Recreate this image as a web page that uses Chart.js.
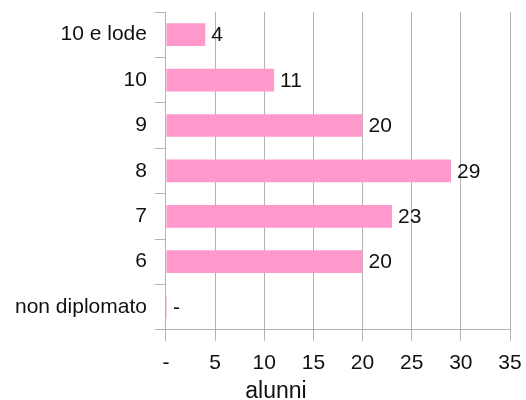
<!DOCTYPE html>
<html>
<head>
<meta charset="utf-8">
<script src="https://cdn.jsdelivr.net/npm/chart.js@4/dist/chart.umd.min.js"></script>
<style>
  html, body { margin: 0; padding: 0; background: #fff; }
  #wrap { width: 526px; height: 400px; }
</style>
</head>
<body>
<div id="wrap"><canvas id="votiChart"></canvas></div>
<script>
const categories = ["10 e lode", "10", "9", "8", "7", "6", "non diplomato"];
const alunni = [4, 11, 20, 29, 23, 20, 0];
const xTicks = [0, 5, 10, 15, 20, 25, 30, 35];
const axisTitle = "alunni";

const FONT = "'Liberation Sans', Arial, sans-serif";
const GRID = "#b3b3b3";

const valueLabels = {
  id: "valueLabels",
  afterDatasetsDraw(chart) {
    const ctx = chart.ctx;
    const meta = chart.getDatasetMeta(0);
    ctx.save();
    ctx.font = "21px " + FONT;
    ctx.fillStyle = "#111";
    ctx.textBaseline = "middle";
    ctx.textAlign = "left";
    meta.data.forEach((bar, i) => {
      const v = alunni[i];
      ctx.fillText(v === 0 ? "-" : String(v), bar.x + 6, bar.y + 1);
    });
    ctx.restore();
  },
};

const axisLabel = {
  id: "axisLabel",
  afterDraw(chart) {
    const ctx = chart.ctx;
    ctx.save();
    ctx.font = "23px " + FONT;
    ctx.fillStyle = "#111";
    ctx.textAlign = "center";
    ctx.textBaseline = "alphabetic";
    ctx.fillText(axisTitle, 276, 398);
    ctx.restore();
  },
};

new Chart(document.getElementById("votiChart"), {
  type: "bar",
  data: {
    labels: categories,
    datasets: [
      {
        data: alunni,
        backgroundColor: "#ff99cc",
        borderWidth: 0,
        barPercentage: 0.5,
        categoryPercentage: 1,
        minBarLength: 1,
      },
    ],
  },
  options: {
    indexAxis: "y",
    responsive: true,
    maintainAspectRatio: false,
    animation: false,
    layout: { padding: { left: 7, right: 16, top: 12, bottom: 14 } },
    plugins: { legend: { display: false }, tooltip: { enabled: false } },
    scales: {
      x: {
        min: 0,
        max: 35,
        afterBuildTicks(scale) {
          scale.ticks = xTicks.map((v) => ({ value: v }));
        },
        afterFit(scale) {
          scale.paddingLeft = 0;
          scale.paddingRight = 0;
        },
        ticks: {
          color: "#111",
          font: { family: FONT, size: 21 },
          padding: 10,
          callback: (v) => (v === 0 ? "-" : v),
        },
        grid: { color: GRID, tickLength: 11, lineWidth: 1 },
        border: { color: GRID },
      },
      y: {
        afterFit(scale) {
          scale.paddingTop = 0;
          scale.paddingBottom = 0;
        },
        ticks: {
          color: "#111",
          font: { family: FONT, size: 21 },
          padding: 8,
        },
        grid: {
          color: GRID,
          drawOnChartArea: false,
          tickLength: 11,
          offset: true,
        },
        border: { color: GRID },
      },
    },
  },
  plugins: [valueLabels, axisLabel],
});
</script>
</body>
</html>
